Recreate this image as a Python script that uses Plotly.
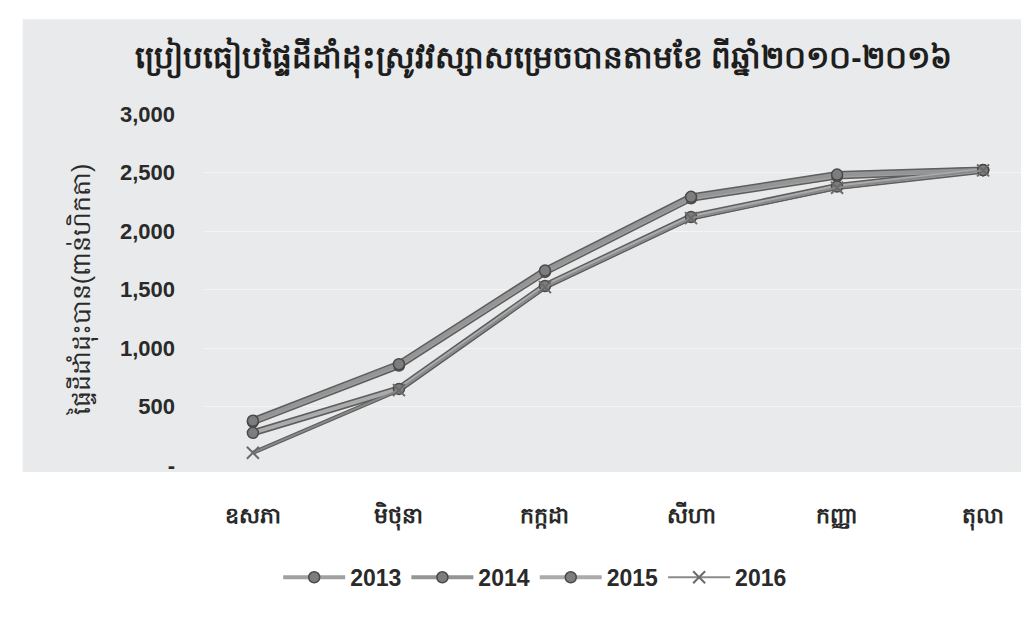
import plotly.graph_objects as go

months = ["ឧសភា", "មិថុនា", "កក្កដា", "សីហា", "កញ្ញា", "តុលា"]
y2013 = [370, 850, 1650, 2280, 2470, 2520]
y2014 = [378, 862, 1662, 2292, 2482, 2522]
y2015 = [275, 650, 1530, 2120, 2380, 2520]
y2016 = [105, 640, 1520, 2110, 2370, 2518]
series_names = ["2013", "2014", "2015", "2016"]
series_values = [y2013, y2014, y2015, y2016]
ytick_vals = [0, 500, 1000, 1500, 2000, 2500, 3000]
ytick_text = ["-", "500", "1,000", "1,500", "2,000", "2,500", "3,000"]

title_text = "ប្រៀបធៀបផ្ទៃដីដាំដុះស្រូវវស្សាសម្រេចបានតាមខែ ពីឆ្នាំ២០១០-២០១៦"
ytitle_text = "ផ្ទៃដីដាំដុះបាន(ពាន់ហិកតា)"

fig = go.Figure()

# dark underlay to mimic the shaded 3D look of the original lines
for name, vals in zip(series_names, series_values):
    fig.add_trace(go.Scatter(
        x=months, y=vals, mode="lines", showlegend=False, hoverinfo="skip",
        legendgroup=name,
        line=dict(color="#5e5e5e", width=7 if name != "2016" else 4),
    ))

styles = {
    "2013": "#a0a0a0",
    "2014": "#959595",
    "2015": "#ababab",
    "2016": "#8a8a8a",
}
for name, vals in zip(series_names, series_values):
    if name == "2016":
        marker = dict(symbol="x-thin", size=12, line=dict(color="#6a6a6a", width=2))
        lw = 2
    else:
        marker = dict(symbol="circle", size=11, color="#7d7d7d",
                      line=dict(color="#4a4a4a", width=1.5))
        lw = 4
    fig.add_trace(go.Scatter(
        x=months, y=vals, mode="lines+markers", name=name, legendgroup=name,
        line=dict(color=styles[name], width=lw), marker=marker,
    ))

fig.update_layout(
    width=1029, height=618,
    margin=dict(l=196, r=5, t=106, b=161),
    paper_bgcolor="white",
    plot_bgcolor="rgba(0,0,0,0)",
    title=dict(text="<b>" + title_text + "</b>", x=0.52, xanchor="center", y=0.92, yanchor="middle",
               font=dict(family="Liberation Sans", size=31, color="#1e1e1e")),
    font=dict(family="Liberation Sans", color="#333333"),
    showlegend=True,
    legend=dict(orientation="h", x=0.40, xanchor="center", y=-0.32, yanchor="middle",
                font=dict(size=23, color="#2a2a2a", family="Liberation Sans", weight="bold"),
                bgcolor="rgba(0,0,0,0)", itemwidth=62, tracegroupgap=0),
    shapes=[dict(type="rect", xref="paper", yref="paper", x0=-0.219, x1=1.01,
                 y0=-0.02, y1=1.27, fillcolor="#e9eaeb", line=dict(width=0), layer="below")],
)
fig.update_xaxes(
    type="category", showline=False, showgrid=False, zeroline=False, ticks="",
    tickfont=dict(size=22, color="#2a2a2a", family="Liberation Sans", weight="bold"),
    ticklabelstandoff=35,
)
fig.update_yaxes(
    range=[0, 3000], tickvals=ytick_vals, ticktext=ytick_text,
    showgrid=True, gridcolor="#f3f4f5", gridwidth=1, zeroline=False, showline=False,
    tickfont=dict(size=22, color="#2a2a2a", family="Liberation Sans", weight="bold"),
    ticklabelstandoff=28,
    title=dict(text=ytitle_text, standoff=22,
               font=dict(size=25, color="#2a2a2a", family="Liberation Sans")),
)

fig.write_html("out.html")
